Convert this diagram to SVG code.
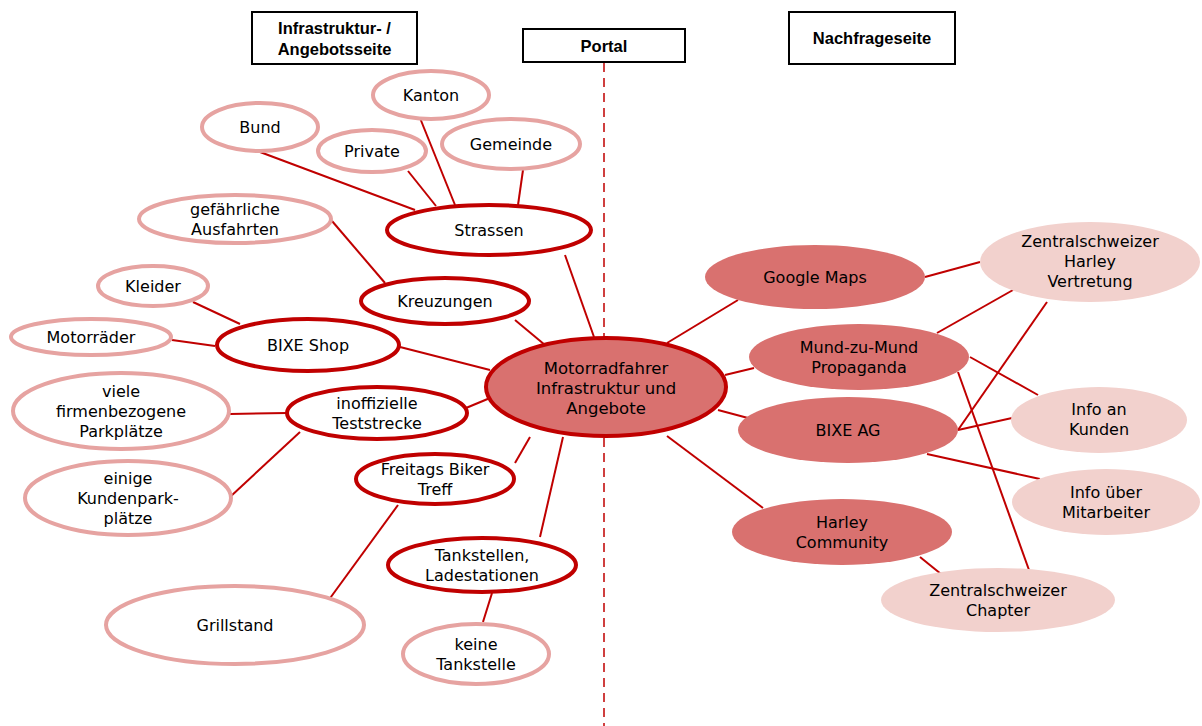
<svg xmlns="http://www.w3.org/2000/svg" width="1202" height="726" viewBox="0 0 1202 726">
<style>
.hdr{fill:#fff;stroke:#000;stroke-width:2}
.ht{font-family:"Liberation Sans",Arial,sans-serif;font-weight:bold;font-size:16.5px;fill:#000;text-anchor:middle}
.t{font-family:"DejaVu Sans","Noto Sans",sans-serif;font-size:16px;fill:#000;text-anchor:middle}
.lp{fill:#fff;stroke:#e6a3a1;stroke-width:4}
.dr{fill:#fff;stroke:#c00000;stroke-width:4}
.ctr{fill:#d9716f;stroke:#c00000;stroke-width:4}
.df{fill:#d9716f;stroke:none}
.lf{fill:#f2d1cd;stroke:none}
.c line{stroke:#c00000;stroke-width:2}
</style>
<rect width="1202" height="726" fill="#fff"/>
<g id="headers">
<rect class="hdr" x="252" y="12" width="165" height="52"/>
<text class="ht" x="334.5" y="34">Infrastruktur- /</text>
<text class="ht" x="334.5" y="55">Angebotsseite</text>
<rect class="hdr" x="523" y="29" width="162" height="33"/>
<text class="ht" x="604" y="52">Portal</text>
<rect class="hdr" x="789" y="12" width="166" height="52"/>
<text class="ht" x="872" y="44">Nachfrageseite</text>
</g>
<line x1="604" y1="63" x2="604" y2="726" stroke="#c00000" stroke-width="1.5" stroke-dasharray="9,6"/>
<g class="c" id="connectors">
<line x1="420" y1="118" x2="455" y2="205"/>
<line x1="408" y1="171" x2="436" y2="206"/>
<line x1="260" y1="152" x2="415" y2="210"/>
<line x1="523" y1="170" x2="518" y2="205"/>
<line x1="565" y1="255" x2="594" y2="337"/>
<line x1="332" y1="221" x2="385" y2="283"/>
<line x1="515" y1="320" x2="545" y2="345"/>
<line x1="193" y1="302" x2="240" y2="324"/>
<line x1="172" y1="340" x2="215" y2="346"/>
<line x1="400" y1="347" x2="490" y2="370"/>
<line x1="466" y1="408" x2="490" y2="398"/>
<line x1="230" y1="414" x2="287" y2="413"/>
<line x1="230" y1="497" x2="300" y2="432"/>
<line x1="515" y1="463" x2="530" y2="437"/>
<line x1="328" y1="601" x2="398" y2="505"/>
<line x1="540" y1="537" x2="563" y2="437"/>
<line x1="483" y1="622" x2="492" y2="593"/>
<line x1="667" y1="343" x2="738" y2="300"/>
<line x1="725" y1="375" x2="754" y2="368"/>
<line x1="718" y1="410" x2="748" y2="418"/>
<line x1="667" y1="436" x2="763" y2="508"/>
<line x1="925" y1="277" x2="980" y2="262"/>
<line x1="937" y1="333" x2="1013" y2="290"/>
<line x1="958" y1="430" x2="1047" y2="302"/>
<line x1="970" y1="357" x2="1038" y2="395"/>
<line x1="958" y1="430" x2="1012" y2="418"/>
<line x1="958" y1="372" x2="1029" y2="570"/>
<line x1="927" y1="454" x2="1040" y2="479"/>
<line x1="920" y1="557" x2="941" y2="574"/>
</g>
<g id="kanton"><ellipse class="lp" cx="431" cy="95" rx="58" ry="24"/><text class="t" x="431" y="101">Kanton</text></g>
<g id="bund"><ellipse class="lp" cx="260" cy="127" rx="58" ry="24"/><text class="t" x="260" y="133">Bund</text></g>
<g id="private"><ellipse class="lp" cx="372" cy="151" rx="54" ry="21"/><text class="t" x="372" y="157">Private</text></g>
<g id="gemeinde"><ellipse class="lp" cx="511" cy="144" rx="69" ry="25"/><text class="t" x="511" y="150">Gemeinde</text></g>
<g id="strassen"><ellipse class="dr" cx="489" cy="230" rx="102" ry="25"/><text class="t" x="489" y="236">Strassen</text></g>
<g id="ausfahrten"><ellipse class="lp" cx="235" cy="219" rx="96" ry="24"/><text class="t" x="235" y="215">gefährliche</text><text class="t" x="235" y="235">Ausfahrten</text></g>
<g id="kreuzungen"><ellipse class="dr" cx="445" cy="301" rx="84" ry="23"/><text class="t" x="445" y="307">Kreuzungen</text></g>
<g id="kleider"><ellipse class="lp" cx="153" cy="286" rx="55" ry="20"/><text class="t" x="153" y="292">Kleider</text></g>
<g id="motorraeder"><ellipse class="lp" cx="91" cy="337" rx="80" ry="18"/><text class="t" x="91" y="343">Motorräder</text></g>
<g id="bixeshop"><ellipse class="dr" cx="308" cy="345" rx="91" ry="26"/><text class="t" x="308" y="351">BIXE Shop</text></g>
<g id="center"><ellipse class="ctr" cx="606" cy="387" rx="120" ry="49"/><text class="t" x="606" y="374" style="font-size:16.5px">Motorradfahrer</text><text class="t" x="606" y="394" style="font-size:16.5px">Infrastruktur und</text><text class="t" x="606" y="414" style="font-size:16.5px">Angebote</text></g>
<g id="viele"><ellipse class="lp" cx="121" cy="411" rx="108" ry="38"/><text class="t" x="121" y="397">viele</text><text class="t" x="121" y="417">firmenbezogene</text><text class="t" x="121" y="437">Parkplätze</text></g>
<g id="teststrecke"><ellipse class="dr" cx="377" cy="413" rx="90" ry="26"/><text class="t" x="377" y="409">inoffizielle</text><text class="t" x="377" y="429">Teststrecke</text></g>
<g id="einige"><ellipse class="lp" cx="128" cy="498" rx="103" ry="37"/><text class="t" x="128" y="484">einige</text><text class="t" x="128" y="504">Kundenpark-</text><text class="t" x="128" y="524">plätze</text></g>
<g id="freitags"><ellipse class="dr" cx="435" cy="479" rx="79" ry="25"/><text class="t" x="435" y="475">Freitags Biker</text><text class="t" x="435" y="495">Treff</text></g>
<g id="tankstellen"><ellipse class="dr" cx="482" cy="565" rx="94" ry="27"/><text class="t" x="482" y="561">Tankstellen,</text><text class="t" x="482" y="581">Ladestationen</text></g>
<g id="grillstand"><ellipse class="lp" cx="235" cy="625" rx="129" ry="39"/><text class="t" x="235" y="631">Grillstand</text></g>
<g id="keine"><ellipse class="lp" cx="476" cy="654" rx="73" ry="30"/><text class="t" x="476" y="650">keine</text><text class="t" x="476" y="670">Tankstelle</text></g>
<g id="googlemaps"><ellipse class="df" cx="815" cy="277" rx="110" ry="32"/><text class="t" x="815" y="283">Google Maps</text></g>
<g id="mundzumund"><ellipse class="df" cx="859" cy="357" rx="110" ry="33"/><text class="t" x="859" y="353">Mund-zu-Mund</text><text class="t" x="859" y="373">Propaganda</text></g>
<g id="bixeag"><ellipse class="df" cx="848" cy="430" rx="110" ry="33"/><text class="t" x="848" y="436">BIXE AG</text></g>
<g id="harleycommunity"><ellipse class="df" cx="842" cy="532" rx="110" ry="33"/><text class="t" x="842" y="528">Harley</text><text class="t" x="842" y="548">Community</text></g>
<g id="zentralharley"><ellipse class="lf" cx="1090" cy="262" rx="110" ry="40"/><text class="t" x="1090" y="247">Zentralschweizer</text><text class="t" x="1090" y="267">Harley</text><text class="t" x="1090" y="287">Vertretung</text></g>
<g id="infokunden"><ellipse class="lf" cx="1099" cy="420" rx="88" ry="33"/><text class="t" x="1099" y="415">Info an</text><text class="t" x="1099" y="435">Kunden</text></g>
<g id="infomitarbeiter"><ellipse class="lf" cx="1106" cy="502" rx="94" ry="33"/><text class="t" x="1106" y="498">Info über</text><text class="t" x="1106" y="518">Mitarbeiter</text></g>
<g id="chapter"><ellipse class="lf" cx="998" cy="600" rx="117" ry="32"/><text class="t" x="998" y="596">Zentralschweizer</text><text class="t" x="998" y="616">Chapter</text></g>
</svg>
